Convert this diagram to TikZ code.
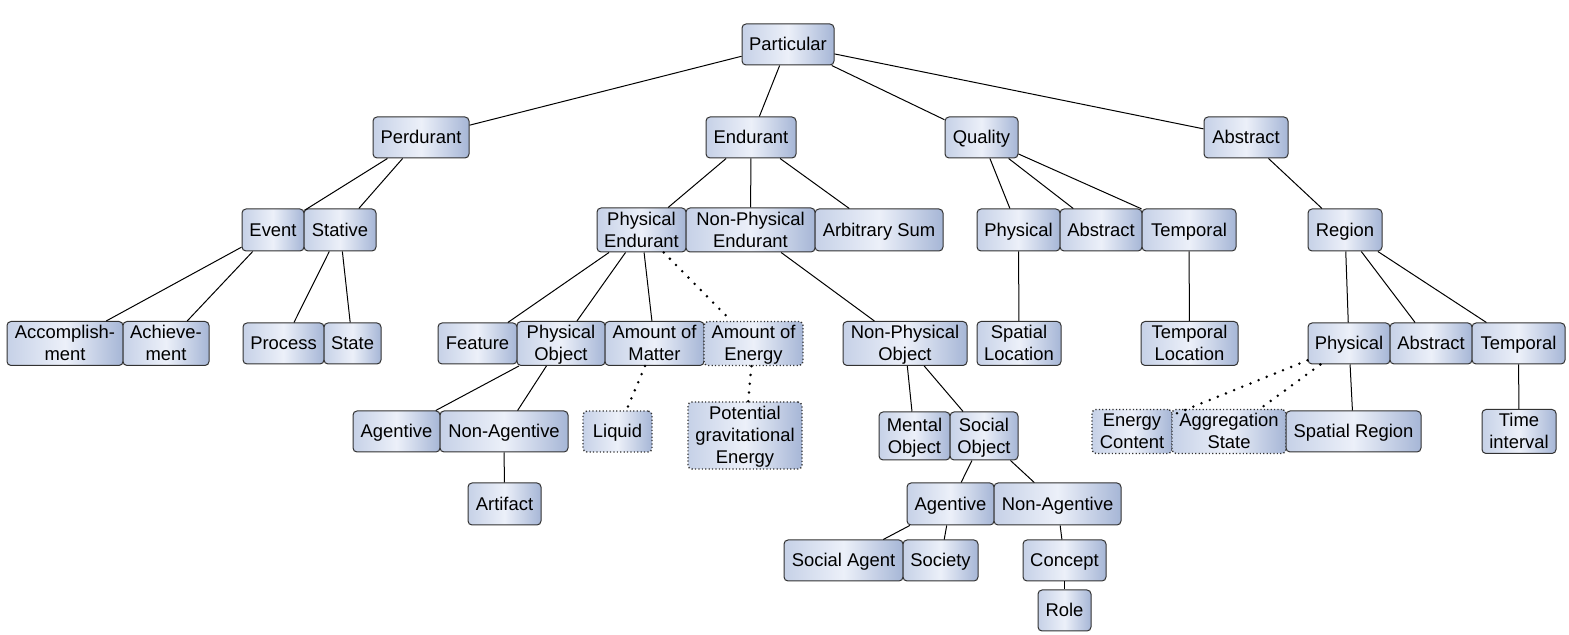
\documentclass[tikz,border=0pt]{standalone}
\usepackage{fontspec}
\setmainfont{Liberation Sans}
\definecolor{gl}{RGB}{198,209,231}
\definecolor{gm}{RGB}{236,240,249}
\definecolor{gr}{RGB}{166,182,214}
\definecolor{bd}{RGB}{50,50,50}
\tikzset{
  box/.style={draw=bd, line width=0.5pt, rounded corners=2pt, inner sep=0pt,
    left color=gl, right color=gr, middle color=gm, align=center,
    font=\fontsize{9.2}{11}\selectfont},
  dotbox/.style={line width=0.7pt, dash pattern=on 0.6pt off 1.1pt},
  edge/.style={draw=black, line width=0.5pt},
  dotedge/.style={draw=black, line width=1.4pt, dash pattern=on 0pt off 4.4pt, line cap=round}
}
\newcommand\mystrut{\rule[-2.3pt]{0pt}{11pt}}
\newcommand\bx[7][]{\node[box,#1,minimum width={(#4-#3)*0.5pt},minimum height={(#6-#5)*0.5pt}] (#2) at ({(#3+#4)/2},{(#5+#6)/2}) {\mystrut #7};}
\newcommand\nl{\\\mystrut}
\begin{document}
\begin{tikzpicture}[x=0.5pt,y=-0.5pt]
\useasboundingbox (0,0) rectangle (1569,635);
% row 1
\bx{particular}{742}{834}{24}{65}{Particular}
% row 2
\bx{perdurant}{373}{469}{117}{158}{Perdurant}
\bx{endurant}{706}{796}{117}{158}{Endurant}
\bx{quality}{945}{1018}{117}{158}{Quality}
\bx{abstract}{1204}{1288}{117}{158}{Abstract}
% row 3
\bx{event}{242}{304}{209}{251}{Event}
\bx{stative}{304}{376}{209}{251}{Stative}
\bx{physend}{597}{686}{209}{251}{Physical\nl Endurant}
\bx{nonphysend}{686}{815}{209}{251}{Non-Physical\nl Endurant}
\bx{arbsum}{815}{943}{209}{251}{Arbitrary Sum}
\bx{qphys}{977}{1060}{209}{251}{Physical}
\bx{qabs}{1060}{1142}{209}{251}{Abstract}
\bx{qtemp}{1142}{1236}{209}{251}{Temporal}
\bx{region}{1308}{1382}{209}{251}{Region}
% row 4
\bx{accomp}{7}{123}{323}{364}{Accomplish-\nl ment}
\bx{achieve}{123}{209}{323}{364}{Achieve-\nl ment}
\bx{process}{243}{324}{323}{364}{Process}
\bx{state}{324}{381}{323}{364}{State}
\bx{feature}{438}{517}{323}{364}{Feature}
\bx{physobj}{517}{605}{323}{364}{Physical\nl Object}
\bx{matter}{605}{704}{323}{364}{Amount of\nl Matter}
\bx[dotbox]{energy}{704}{803}{323}{364}{Amount of\nl Energy}
\bx{nonphysobj}{843}{967}{323}{364}{Non-Physical\nl Object}
\bx{spatloc}{977}{1061}{323}{364}{Spatial\nl Location}
\bx{temploc}{1141}{1238}{323}{364}{Temporal\nl Location}
\bx{rphys}{1308}{1390}{323}{364}{Physical}
\bx{rabs}{1390}{1472}{323}{364}{Abstract}
\bx{rtemp}{1472}{1565}{323}{364}{Temporal}
% row 5
\bx{agentive}{353}{440}{411}{452}{Agentive}
\bx{nonagentive}{440}{568}{411}{452}{Non-Agentive}
\bx[dotbox]{liquid}{583}{652}{411}{452}{Liquid}
\bx[dotbox]{potgrav}{688}{802}{402}{469}{Potential\nl gravitational\nl Energy}
\bx{mental}{879}{950}{412}{460}{Mental\nl Object}
\bx{social}{950}{1018}{412}{460}{Social\nl Object}
\bx[dotbox]{encontent}{1092}{1172}{411}{452}{Energy\nl Content}
\bx[dotbox]{aggstate}{1172}{1286}{411}{452}{Aggregation\nl State}
\bx{spatreg}{1286}{1421}{411}{452}{Spatial Region}
\bx{timeint}{1482}{1556}{411}{452}{Time\nl interval}
% row 6
\bx{artifact}{468}{541}{483}{525}{Artifact}
\bx{sagentive}{907}{994}{483}{525}{Agentive}
\bx{snonagentive}{994}{1121}{483}{525}{Non-Agentive}
% row 7
\bx{socagent}{784}{903}{540}{581}{Social Agent}
\bx{society}{903}{978}{540}{581}{Society}
\bx{concept}{1023}{1106}{540}{581}{Concept}
% row 8
\bx{role}{1038}{1091}{590}{631}{Role}
% edges
\draw[edge] (particular) -- (perdurant);
\draw[edge] (particular) -- (endurant);
\draw[edge] (particular) -- (quality);
\draw[edge] (particular) -- (abstract);
\draw[edge] (perdurant) -- (event);
\draw[edge] (perdurant) -- (stative);
\draw[edge] (event) -- (accomp);
\draw[edge] (event) -- (achieve);
\draw[edge] (stative) -- (process);
\draw[edge] (stative) -- (state);
\draw[edge] (endurant) -- (physend);
\draw[edge] (endurant) -- (nonphysend);
\draw[edge] (endurant) -- (arbsum);
\draw[edge] (physend) -- (feature);
\draw[edge] (physend) -- (physobj);
\draw[edge] (physend) -- (matter);
\draw[dotedge] (physend) -- (energy);
\draw[edge] (physobj) -- (agentive);
\draw[edge] (physobj) -- (nonagentive);
\draw[edge] (nonagentive) -- (artifact);
\draw[dotedge] (matter) -- (liquid);
\draw[dotedge] (energy) -- (potgrav);
\draw[edge] (nonphysend) -- (nonphysobj);
\draw[edge] (nonphysobj) -- (mental);
\draw[edge] (nonphysobj) -- (social);
\draw[edge] (social) -- (sagentive);
\draw[edge] (social) -- (snonagentive);
\draw[edge] (sagentive) -- (socagent);
\draw[edge] (sagentive) -- (society);
\draw[edge] (snonagentive) -- (concept);
\draw[edge] (concept) -- (role);
\draw[edge] (quality) -- (qphys);
\draw[edge] (quality) -- (qabs);
\draw[edge] (quality) -- (qtemp);
\draw[edge] (qphys) -- (spatloc);
\draw[edge] (qtemp) -- (temploc);
\draw[edge] (abstract) -- (region);
\draw[edge] (region) -- (rphys);
\draw[edge] (region) -- (rabs);
\draw[edge] (region) -- (rtemp);
\draw[edge] (rphys) -- (spatreg);
\draw[dotedge] (rphys) -- (encontent);
\draw[dotedge] (rphys) -- (aggstate);
\draw[edge] (rtemp) -- (timeint);
\end{tikzpicture}
\end{document}
